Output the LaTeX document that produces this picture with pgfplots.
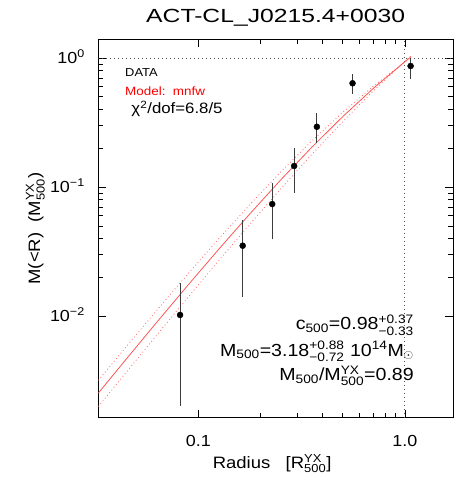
\documentclass[border=0pt]{standalone}
\usepackage{fontspec}
\setmainfont{Liberation Sans}[FakeStretch=1.12]
\newfontfamily\titlefont{Liberation Sans}[FakeStretch=1.3]
\usepackage{amsmath}
\usepackage{pgfplots}
\pgfplotsset{compat=1.18}
\definecolor{modred}{RGB}{255,85,85}
\definecolor{bandred}{RGB}{255,110,110}
\definecolor{errgray}{RGB}{60,60,60}
\definecolor{refgray}{RGB}{80,80,80}
\begin{document}
\begin{tikzpicture}
\begin{axis}[
  xmode=log, ymode=log,
  scale only axis, width=354.7pt, height=378.4pt,
  xmin=0.0328, xmax=1.71, ymin=0.00163, ymax=1.396,
  xtick={0.1,1}, xticklabels={0.1,1.0},
  ytick={0.01,0.1,1},
  yticklabels={10\textsuperscript{−2},10\textsuperscript{−1},10\textsuperscript{0}},
  /pgf/number format/assume math mode=true,
  tick align=inside, major tick length=8pt, minor tick length=5pt,
  axis line style={line width=0.8pt, black},
  every tick/.style={black, line width=0.7pt},
  tick label style={font=\fontsize{16}{18}\selectfont},
  xticklabel style={anchor=base, yshift=-29pt},
  yticklabel style={anchor=base east, xshift=-10pt, yshift=-5.8pt},
  title={\titlefont ACT-CL\_J0215.4+0030},
  title style={at={(0.5,1)}, anchor=base, yshift=11.3pt, font=\fontsize{19}{22}\selectfont},
  xlabel={Radius\ \ \ [R$^{\text{YX}}_{\text{500}}$]},
  xlabel style={at={(axis description cs:0.49,0)}, anchor=base, yshift=-50.6pt, font=\fontsize{16.5}{19}\selectfont},
  ylabel={M(<R)\ \ (M$^{\text{YX}}_{\text{500}}$)},
  ylabel style={at={(axis description cs:0,0.5)}, anchor=center, rotate=0, yshift=63pt, font=\fontsize{16.5}{19}\selectfont},
  clip=true,
]
% reference lines
\addplot[refgray, line width=0.8pt, dash pattern=on 1pt off 3pt] coordinates {(0.0328,1) (1.71,1)};
\addplot[refgray, line width=0.8pt, dash pattern=on 1pt off 3pt] coordinates {(1,0.00163) (1,1.396)};
% model band (dotted)
\addplot[bandred, line width=0.8pt, dash pattern=on 0.9pt off 2.6pt] coordinates {
(0.0328,0.0031719) (0.045,0.005842) (0.063,0.011095) (0.089,0.021183) (0.126,0.039948) (0.178,0.073484)
(0.251,0.131242) (0.355,0.228068) (0.501,0.380302) (0.708,0.609000) (1.0,0.931431) (1.07,1.006849)};
\addplot[bandred, line width=0.8pt, dash pattern=on 0.9pt off 2.6pt] coordinates {
(0.0328,0.0019872) (0.045,0.0037004) (0.063,0.0071403) (0.089,0.013934) (0.126,0.027068) (0.178,0.051755)
(0.251,0.097102) (0.355,0.179485) (0.501,0.322084) (0.708,0.561249) (1.0,0.941398) (1.07,1.036827)};
% model line
\addplot[modred, line width=0.8pt] coordinates {
(0.0328,0.0025277) (0.045,0.0046823) (0.063,0.0089662) (0.089,0.017313) (0.126,0.033151) (0.178,0.062189)
(0.251,0.113837) (0.355,0.203905) (0.501,0.352194) (0.708,0.586750) (1.0,0.935892) (1.07,1.020167)};
% error bars
\addplot[errgray, line width=0.8pt, unbounded coords=jump] coordinates {
(0.0816,0.00202) (0.0816,0.0179) (0.0816,nan)
(0.164,0.0141) (0.164,0.0555) (0.164,nan)
(0.228,0.0393) (0.228,0.107) (0.228,nan)
(0.291,0.0903) (0.291,0.2017) (0.291,nan)
(0.375,0.218) (0.375,0.378) (0.375,nan)
(0.558,0.526) (0.558,0.751) (0.558,nan)
(1.066,0.684) (1.066,0.995)};
% data points
\addplot[only marks, mark=*, mark size=3pt, black] coordinates {
(0.0816,0.0102) (0.164,0.0351) (0.228,0.0738) (0.291,0.1455) (0.375,0.293) (0.558,0.637) (1.066,0.867)};
% annotations
\node[anchor=base west, font=\fontsize{11.5}{13}\selectfont, inner sep=0pt] at (rel axis cs:0.0753,0.903) {DATA};
\node[anchor=base west, font=\fontsize{12}{14}\selectfont, text=red, inner sep=0pt] at (rel axis cs:0.0753,0.8528) {Model:\ \ mnfw};
\node[anchor=base west, font=\fontsize{15}{17}\selectfont, inner sep=0pt] at (rel axis cs:0.093,0.8044) {χ\textsuperscript{2}/dof=6.8/5};
\node[anchor=base east, font=\fontsize{17.5}{20}\selectfont, inner sep=0pt] at (rel axis cs:0.890,0.2318) {c$_{\text{500}}$=0.98$^{\text{+0.37}}_{\text{−0.33}}$};
\node[anchor=base east, font=\fontsize{17.5}{20}\selectfont, inner sep=0pt] at (rel axis cs:0.890,0.163) {M$_{\text{500}}$=3.18$^{\text{+0.88}}_{\text{−0.72}}$\ 10$^{\text{14}}$M$_{\odot}$};
\node[anchor=base east, font=\fontsize{17.5}{20}\selectfont, inner sep=0pt] at (rel axis cs:0.890,0.0978) {M$_{\text{500}}$/M$^{\text{YX}}_{\text{500}}$=0.89};
\end{axis}
\path (current axis.south west) ++(-98.3pt,-59.3pt) rectangle ++(460pt,477pt);
\end{tikzpicture}
\end{document}
